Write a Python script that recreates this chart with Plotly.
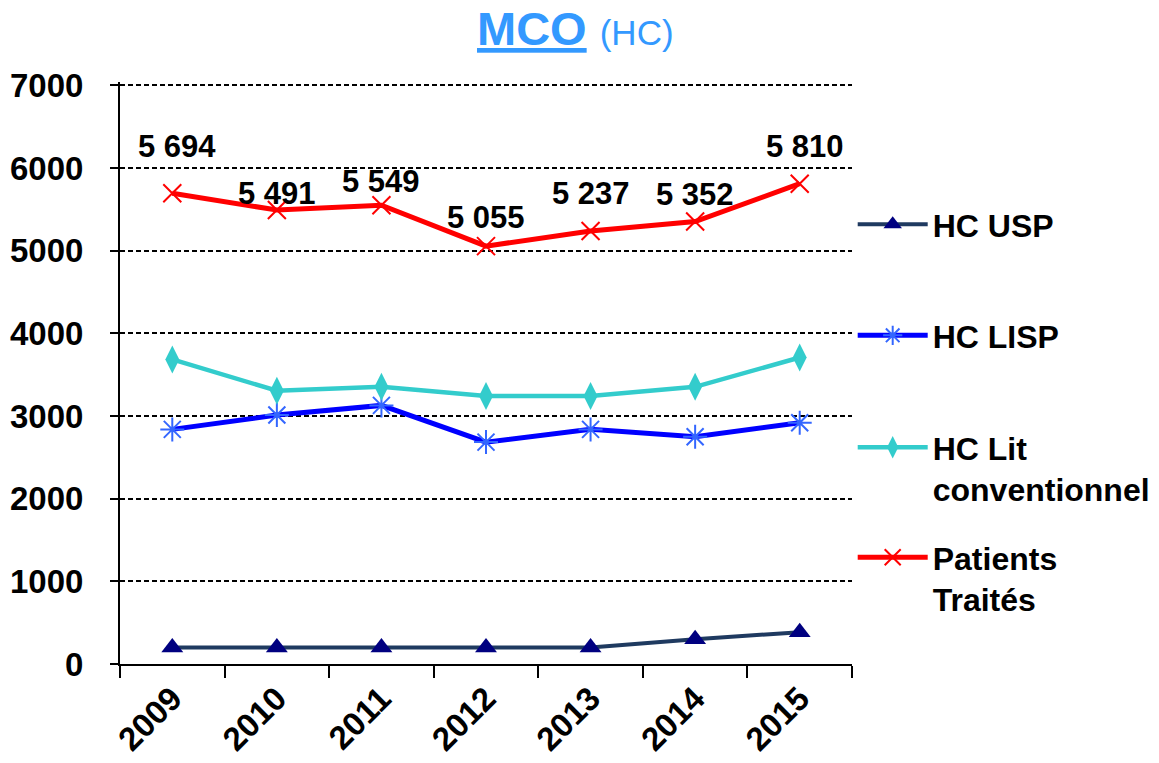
import plotly.graph_objects as go

years = ["2009", "2010", "2011", "2012", "2013", "2014", "2015"]
hc_usp = [200, 200, 200, 200, 200, 300, 385]
hc_lisp = [2838, 3011, 3128, 2684, 2838, 2749, 2918]
hc_lit = [3684, 3305, 3353, 3241, 3241, 3353, 3708]
patients = [5694, 5491, 5549, 5055, 5237, 5352, 5810]
patient_labels = ["5 694", "5 491", "5 549", "5 055", "5 237", "5 352", "5 810"]
y_ticks = [0, 1000, 2000, 3000, 4000, 5000, 6000, 7000]

FONT = "Liberation Sans, Arial, sans-serif"
W, H = 1159, 763

fig = go.Figure()

fig.add_trace(go.Scatter(
    x=years, y=hc_usp, name="HC USP", mode="lines+markers",
    line=dict(color="#1F3A60", width=4),
    marker=dict(symbol="triangle-up", size=19, color="#000080"),
    legend="legend",
))
fig.add_trace(go.Scatter(
    x=years, y=hc_lisp, name="HC LISP", mode="lines+markers",
    line=dict(color="#0000FF", width=5),
    marker=dict(symbol="asterisk-open", size=20, color="#3366FF",
                line=dict(color="#3366FF", width=2)),
    legend="legend2",
))
fig.add_trace(go.Scatter(
    x=years, y=hc_lit, name="HC Lit<br>conventionnel", mode="lines+markers",
    line=dict(color="#33CCCC", width=4.5),
    marker=dict(symbol="diamond-tall", size=20, color="#33CCCC"),
    legend="legend3",
))
fig.add_trace(go.Scatter(
    x=years, y=patients, name="Patients<br>Traités", mode="lines+markers",
    line=dict(color="#FF0000", width=5),
    marker=dict(symbol="x-thin-open", size=18, color="#FF0000",
                line=dict(color="#FF0000", width=2)),
    legend="legend4",
))

# data labels for Patients Traités (category axis: position by index)
label_yshift = [47, 17, 24, 29, 38, 27, 37]
label_xshift = [5, 0, 0, 0, 0, 0, 5]
for i, (y, t, dy, dx) in enumerate(zip(patients, patient_labels, label_yshift, label_xshift)):
    fig.add_annotation(x=i, y=y, xref="x", yref="y", text=t, showarrow=False,
                       yshift=dy, xshift=dx,
                       font=dict(family=FONT, size=31, color="black", weight="bold"))

Y_TOP = 7040  # small headroom so the 7000 gridline is drawn
PLOT_TOP = 85 - (Y_TOP - 7000) * 579.0 / 7000

# title
fig.add_annotation(xref="paper", yref="paper", x=0.622, y=1.0, yshift=57 - (85 - PLOT_TOP),
                   xanchor="center", yanchor="middle", showarrow=False,
                   text="<b><u>MCO</u></b> <span style='font-size:35px'>(HC)</span>",
                   font=dict(family=FONT, size=47, color="#3399FF"))

leg_font = dict(family=FONT, size=32, color="black", weight="bold")
leg_common = dict(xref="container", yref="container", xanchor="left", yanchor="top",
                  bgcolor="rgba(0,0,0,0)", font=leg_font, itemwidth=70, valign="top")
LEG_X = 852.7 / W
def ycont(px):
    return 1 - px / H

fig.update_layout(
    width=W, height=H,
    margin=dict(l=120, r=W - 852, t=PLOT_TOP, b=99, autoexpand=False),
    paper_bgcolor="white", plot_bgcolor="white",
    font=dict(family=FONT, color="black"),
    showlegend=True,
    legend=dict(x=LEG_X, y=ycont(197), **leg_common),
    legend2=dict(x=LEG_X, y=ycont(308), **leg_common),
    legend3=dict(x=LEG_X, y=ycont(420), **leg_common),
    legend4=dict(x=LEG_X, y=ycont(530), **leg_common),
    xaxis=dict(
        type="category", range=[-0.5, 6.5],
        tickvals=years, ticktext=years,
        showline=True, linecolor="black", linewidth=2,
        ticks="outside", tickson="boundaries", ticklen=12, tickwidth=2, tickcolor="black",
        tickangle=-45, showgrid=False, automargin=False,
        tickfont=dict(family=FONT, size=33, color="black", weight="bold"),
        fixedrange=True,
    ),
    yaxis=dict(
        range=[0, Y_TOP], tickvals=y_ticks,
        showline=True, linecolor="black", linewidth=2,
        ticks="outside", ticklen=8, tickwidth=2, tickcolor="black",
        showgrid=True, gridcolor="black", gridwidth=1.5, griddash="5px,3px",
        zeroline=False, automargin=False,
        tickfont=dict(family=FONT, size=33, color="black", weight="bold"),
        ticklabelstandoff=20,
    ),
)

fig.write_html("out.html")
